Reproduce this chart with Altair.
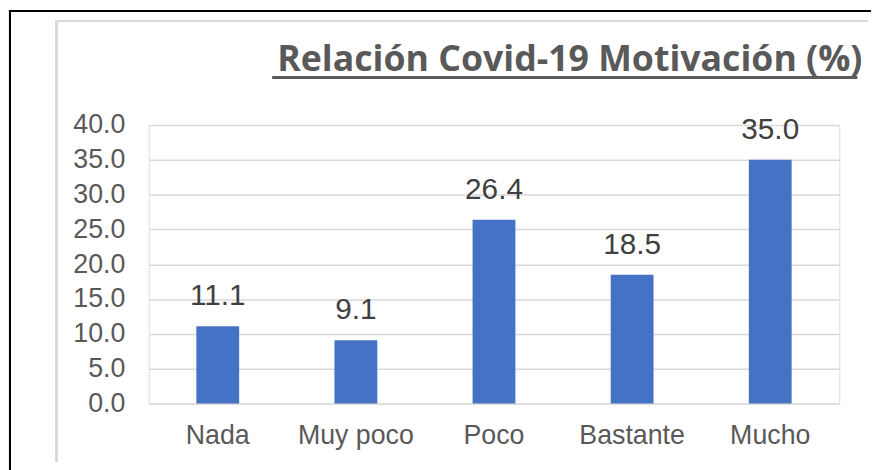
import altair as alt
import pandas as pd

categories = ["Nada", "Muy poco", "Poco", "Bastante", "Mucho"]
values = [11.1, 9.1, 26.4, 18.5, 35.0]
y_ticks = [0, 5, 10, 15, 20, 25, 30, 35, 40]
title_text = "Relación Covid-19 Motivación (%)"

df = pd.DataFrame({"cat": categories, "val": values})

x_enc = alt.X("cat:N", sort=categories, title=None,
              scale=alt.Scale(paddingInner=0.69, paddingOuter=0.345),
              axis=alt.Axis(labelAngle=0, labelFont="Liberation Sans", labelFontSize=27,
                            labelColor="#595959", ticks=False, domain=False,
                            labelBaseline="alphabetic", labelPadding=40))
y_enc = alt.Y("val:Q", title=None,
              scale=alt.Scale(domain=[0, 40], nice=False),
              axis=alt.Axis(values=y_ticks, format=".1f", labelFont="Liberation Sans",
                            labelFontSize=27, labelColor="#595959", ticks=False,
                            labelOverlap=False, labelFlush=False,
                            domain=False, labelPadding=24, gridColor="#d9d9d9",
                            gridWidth=1.5))

base = alt.Chart(df)
bars = base.mark_bar(color="#4472c4").encode(x=x_enc, y=y_enc)
labels = base.mark_text(font="Liberation Sans", fontSize=30, color="#404040",
                        baseline="alphabetic", dy=-21).encode(
    x=x_enc, y=y_enc, text=alt.Text("val:Q", format=".1f"))

# decorations (frame, title, underline)
black_left = alt.Chart(df).mark_rule(color="#000000", strokeWidth=2).encode(
    x=alt.value(-140), y=alt.value(-116), y2=alt.value(350))
black_top = alt.Chart(df).mark_rule(color="#000000", strokeWidth=2).encode(
    x=alt.value(-141), x2=alt.value(740), y=alt.value(-115))
gray_left = alt.Chart(df).mark_rule(color="#d9d9d9", strokeWidth=2).encode(
    x=alt.value(-93), y=alt.value(-105), y2=alt.value(340))
gray_top = alt.Chart(df).mark_rule(color="#d9d9d9", strokeWidth=2).encode(
    x=alt.value(-94), x2=alt.value(726), y=alt.value(-105))
title = alt.Chart(pd.DataFrame({"t": [title_text]})).mark_text(
    font="Open Sans", fontSize=36, fontWeight="bold", color="#595959",
    baseline="alphabetic", align="center").encode(
    x=alt.value(425), y=alt.value(-55), text="t:N")
underline = alt.Chart(df).mark_rule(color="#595959", strokeWidth=2).encode(
    x=alt.value(125), x2=alt.value(715), y=alt.value(-48))

chart = alt.layer(bars, labels, black_left, black_top, gray_left, gray_top, title, underline).properties(
    width=697, height=281,
    autosize=alt.AutoSizeParams(type="none"),
    padding={"left": 142, "top": 116, "right": 32, "bottom": 65},
).configure_view(stroke=None).configure(background="white")

chart.save("out.html", embed_options={"renderer": "svg", "actions": False})
